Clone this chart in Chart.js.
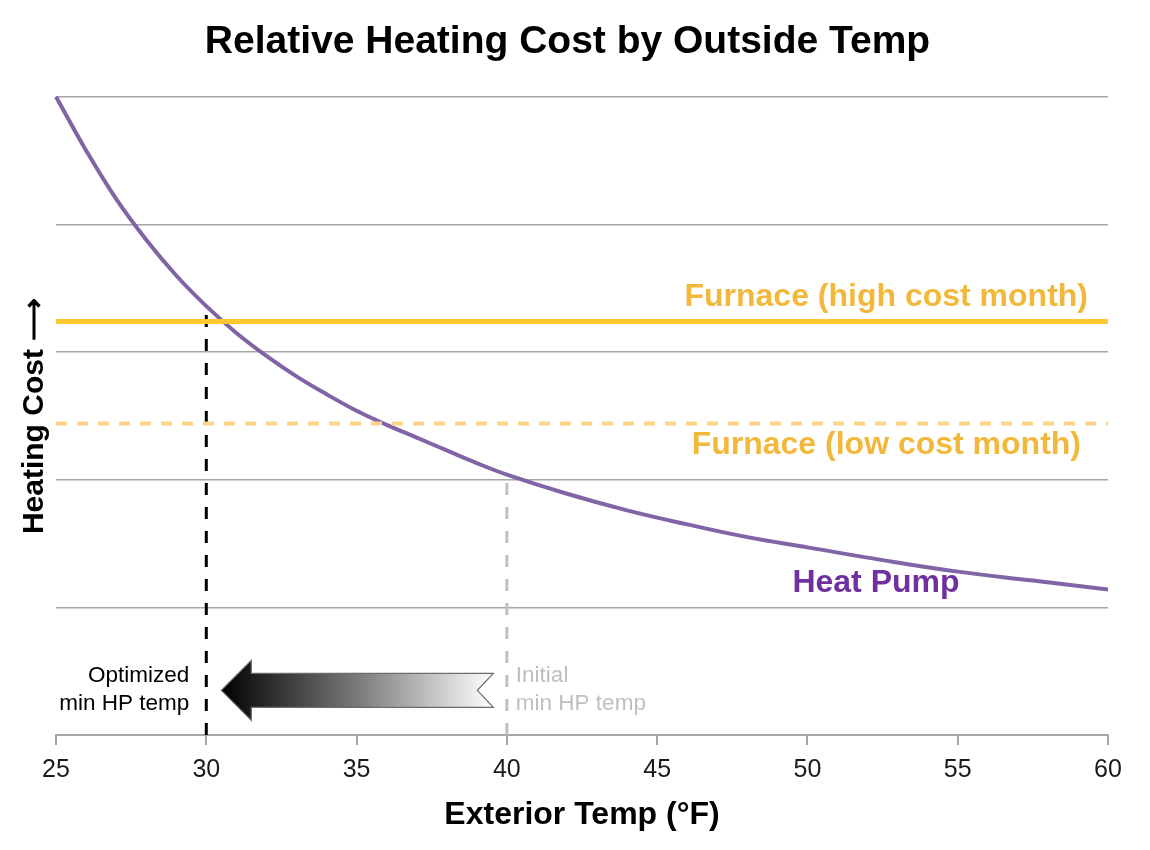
<!DOCTYPE html>
<html>
<head>
<meta charset="utf-8">
<title>Relative Heating Cost by Outside Temp</title>
<script src="https://cdn.jsdelivr.net/npm/chart.js@4"></script>
<style>
    html, body {
        margin: 0;
        padding: 0;
        background: #fff;
    }
    #wrap {
        width: 1150px;
        height: 850px;
    }
</style>
</head>
<body>
<div id="wrap"><canvas id="myChart"></canvas></div>
<script>
// values (y has no units, grid every 1)
const hpTemps = [25, 26, 27, 28, 29, 30, 31, 32, 33, 34, 35, 36, 37, 38, 39, 40, 42, 44, 46, 48, 50, 52.5, 55, 57.5, 60];
const hpCost = [5.00, 4.58, 4.20, 3.88, 3.60, 3.36, 3.15, 2.97, 2.81, 2.67, 2.54, 2.43, 2.33, 2.23, 2.13, 2.04, 1.89, 1.76, 1.65, 1.55, 1.47, 1.37, 1.28, 1.21, 1.14];

const furnaceHigh = 3.24;
const furnaceLow = 2.44;

const minTemps = [30, 40];      // optimized, initial
const minTops = [3.32, 2.04];

const xTicks = [25, 30, 35, 40, 45, 50, 55, 60];

const FONT = "'Liberation Sans', Arial, sans-serif";

function points(xs, ys) {
    return xs.map((x, i) => ({ x: x, y: ys[i] }));
}

const data = {
    datasets: [
        {
            label: 'Furnace (high cost month)',
            data: points([25, 60], [furnaceHigh, furnaceHigh]),
            borderColor: '#FFC832',
            borderWidth: 5,
            pointRadius: 0,
            order: 1
        },
        {
            label: 'Furnace (low cost month)',
            data: points([25, 60], [furnaceLow, furnaceLow]),
            borderColor: '#FFD385',
            borderWidth: 4,
            borderDash: [11, 10],
            pointRadius: 0,
            order: 2
        },
        {
            label: 'Heat Pump',
            data: points(hpTemps, hpCost),
            borderColor: '#8064A6',
            borderWidth: 4,
            pointRadius: 0,
            tension: 0.4,
            clip: false,
            order: 3
        },
        {
            label: 'Optimized min HP temp',
            data: points([minTemps[0], minTemps[0]], [0, minTops[0]]),
            borderColor: '#000',
            borderWidth: 3,
            borderDash: [12, 12],
            pointRadius: 0,
            order: 4
        },
        {
            label: 'Initial min HP temp',
            data: points([minTemps[1], minTemps[1]], [0, minTops[1]]),
            borderColor: '#BFBFBF',
            borderWidth: 3,
            borderDash: [12, 12],
            pointRadius: 0,
            order: 5
        }
    ]
};

// arrow + text labels drawn on top of the chart
const notes = {
    id: 'notes',
    afterDatasetsDraw(chart) {
        const ctx = chart.ctx;
        const xs = chart.scales.x;
        const ys = chart.scales.y;
        const area = chart.chartArea;

        // arrow from initial to optimized temp
        const tipX = xs.getPixelForValue(minTemps[0] + 0.5);
        const tailX = xs.getPixelForValue(minTemps[1] - 0.45);
        const cy = ys.getPixelForValue(0.35);
        const headLen = 30, headH = 30, shaftH = 17, notch = 16;

        ctx.save();
        let grad = ctx.createLinearGradient(tipX, 0, tailX, 0);
        grad.addColorStop(0, '#000');
        grad.addColorStop(0.5, '#7a7a7a');
        grad.addColorStop(1, '#fff');
        ctx.beginPath();
        ctx.moveTo(tipX, cy);
        ctx.lineTo(tipX + headLen, cy - headH);
        ctx.lineTo(tipX + headLen, cy - shaftH);
        ctx.lineTo(tailX, cy - shaftH);
        ctx.lineTo(tailX - notch, cy);
        ctx.lineTo(tailX, cy + shaftH);
        ctx.lineTo(tipX + headLen, cy + shaftH);
        ctx.lineTo(tipX + headLen, cy + headH);
        ctx.closePath();
        ctx.fillStyle = grad;
        ctx.fill();
        ctx.lineWidth = 1.2;
        ctx.strokeStyle = '#6b6b6b';
        ctx.stroke();

        // series labels
        ctx.font = 'bold 32px ' + FONT;
        ctx.textBaseline = 'middle';
        ctx.fillStyle = '#F2B83C';
        ctx.textAlign = 'right';
        ctx.fillText('Furnace (high cost month)', area.right - 20, ys.getPixelForValue(furnaceHigh) - 24);
        ctx.fillText('Furnace (low cost month)', area.right - 27, ys.getPixelForValue(furnaceLow) + 22);

        ctx.fillStyle = '#7030A0';
        ctx.textAlign = 'left';
        ctx.fillText('Heat Pump', xs.getPixelForValue(49.5), ys.getPixelForValue(1.19));

        // min temp notes
        ctx.font = '22.5px ' + FONT;
        const y1 = ys.getPixelForValue(0.46);
        const y2 = y1 + 28;
        ctx.fillStyle = '#000';
        ctx.textAlign = 'right';
        ctx.fillText('Optimized', xs.getPixelForValue(minTemps[0]) - 17, y1);
        ctx.fillText('min HP temp', xs.getPixelForValue(minTemps[0]) - 17, y2);

        ctx.fillStyle = '#BFBFBF';
        ctx.textAlign = 'left';
        ctx.fillText('Initial', xs.getPixelForValue(minTemps[1]) + 9, y1);
        ctx.fillText('min HP temp', xs.getPixelForValue(minTemps[1]) + 9, y2);
        ctx.restore();
    }
};

let config = {
    type: 'line',
    data: data,
    plugins: [notes],
    options: {
        responsive: true,
        maintainAspectRatio: false,
        animation: false,
        layout: {
            padding: { left: 27, right: 42, top: 0, bottom: 0 }
        },
        plugins: {
            legend: { display: false },
            tooltip: { enabled: false },
            title: {
                display: true,
                text: 'Relative Heating Cost by Outside Temp',
                color: '#000',
                font: { family: FONT, size: 39, weight: 'bold' },
                padding: { top: 19, bottom: 31 }
            }
        },
        scales: {
            x: {
                type: 'linear',
                min: 25,
                max: 60,
                afterBuildTicks: (scale) => {
                    scale.ticks = xTicks.map(v => ({ value: v }));
                },
                afterFit: (scale) => {
                    scale.height = 115;
                },
                ticks: {
                    color: '#1a1a1a',
                    font: { family: FONT, size: 25 },
                    padding: 10,
                    maxRotation: 0
                },
                grid: {
                    drawOnChartArea: false,
                    drawTicks: true,
                    tickLength: 10,
                    color: '#A6A6A6',
                    lineWidth: 2
                },
                border: { color: '#A6A6A6', width: 2 },
                title: {
                    display: true,
                    text: 'Exterior Temp (°F)',
                    color: '#000',
                    font: { family: FONT, size: 32, weight: 'bold' },
                    padding: { top: 0, bottom: 16 }
                }
            },
            y: {
                min: 0,
                max: 5,
                ticks: { display: false, stepSize: 1 },
                afterFit: (scale) => {
                    scale.width = 29;
                },
                grid: {
                    drawTicks: false,
                    color: (c) => c.tick.value === 0 ? 'rgba(0,0,0,0)' : '#A6A6A6',
                    lineWidth: 1.5
                },
                border: { display: false },
                title: {
                    display: true,
                    text: 'Heating Cost ⟶',
                    color: '#000',
                    font: { family: FONT, size: 30, weight: 'bold', lineHeight: 0.5 },
                    padding: 0
                }
            }
        }
    }
};

let myChart = new Chart(
    document.getElementById('myChart'),
    config
);
</script>
</body>
</html>
